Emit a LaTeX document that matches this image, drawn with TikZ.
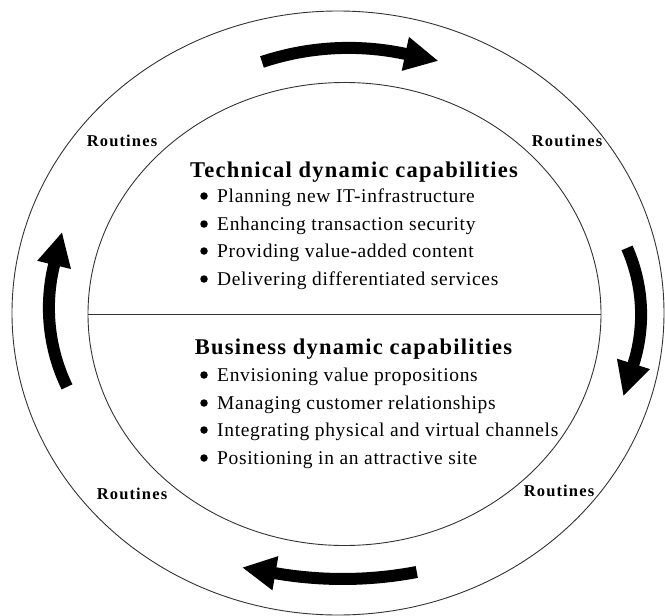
\documentclass[tikz,border=0pt]{standalone}
\usepackage{fontspec}
\setmainfont{Liberation Serif}
\usetikzlibrary{arrows.meta,shapes.geometric,calc}
\begin{document}
\begin{tikzpicture}[x=1pt,y=-1pt,
  ring/.style={ellipse, draw=black!80, line width=0.9pt, inner sep=0pt},
  flow/.style={line width=12pt, -{Triangle[width=32pt,length=34pt]}},
  routine/.style={font=\fontsize{16.5}{16.5}\selectfont\bfseries\addfontfeatures{LetterSpace=7}, anchor=base},
  heading/.style={font=\fontsize{22.5}{22.5}\selectfont\bfseries\addfontfeatures{LetterSpace=5.5}, anchor=base},
  item/.style={font=\fontsize{19.5}{19.5}\selectfont\addfontfeatures{LetterSpace=3.4}, anchor=base west, inner sep=0pt},
  dot/.style={circle, fill=black, inner sep=0pt, minimum size=7.5pt}]
\useasboundingbox (0,0) rectangle (665,616);

% outer ring of routines and inner disc of capabilities
\node[ring, minimum width=652pt, minimum height=604pt] (outer) at (338,313) {};
\node[ring, minimum width=513pt, minimum height=463pt] (inner) at (344.5,314) {};
\draw[black!80, line width=0.9pt] (inner.west) -- (inner.east);

% circulating arrows: a circular shaft from the tail to the head base,
% then a straight stretch along the end tangent that carries the head
\newcommand\flowarc[5]{% #1 name, #2 centre, #3 radius, #4 tail angle, #5 base angle
  \path (#2) ++(#4:#3) coordinate (#1a);
  \path (#2) ++(#5:#3) coordinate (#1b);
  \draw[flow] (#1a) arc[start angle=#4, end angle=#5, radius=#3]
    -- ($(#1b)!34pt!90:(#2)$);}
\coordinate (cT) at (348.5,321.3);
\coordinate (cR) at (476.8,314.5);
\coordinate (cB) at (342.7,183.6);
\coordinate (cL) at (230.4,307.9);
\flowarc{t}{cT}{273.4}{-108.45}{-78}
\flowarc{r}{cR}{164.3}{-23.9}{17.5}
\flowarc{b}{cB}{395.4}{79.2}{99.8}
\flowarc{l}{cL}{181.5}{154.2}{193.7}

% routine labels
\node[routine] (r1) at (122,146) {Routines};
\node[routine] (r2) at (567,146) {Routines};
\node[routine] (r3) at (132,499) {Routines};
\node[routine] (r4) at (559,496) {Routines};

% technical capabilities
\node[heading] (tech) at (354,177) {Technical dynamic capabilities};
\foreach \i/\y/\t in {1/202/Planning new IT-infrastructure,
                      2/230/Enhancing transaction security,
                      3/257/Providing value-added content,
                      4/285/Delivering differentiated services}{
  \node[dot] (td\i) at (204,\y-6) {};
  \node[item] (ti\i) at (217,\y) {\t};
}

% business capabilities
\node[heading] (bus) at (353.5,354) {Business dynamic capabilities};
\foreach \i/\y/\t in {1/381/Envisioning value propositions,
                      2/409/Managing customer relationships,
                      3/436/Integrating physical and virtual channels,
                      4/464/Positioning in an attractive site}{
  \node[dot] (bd\i) at (204,\y-6) {};
  \node[item] (bi\i) at (217,\y) {\t};
}
\end{tikzpicture}
\end{document}
